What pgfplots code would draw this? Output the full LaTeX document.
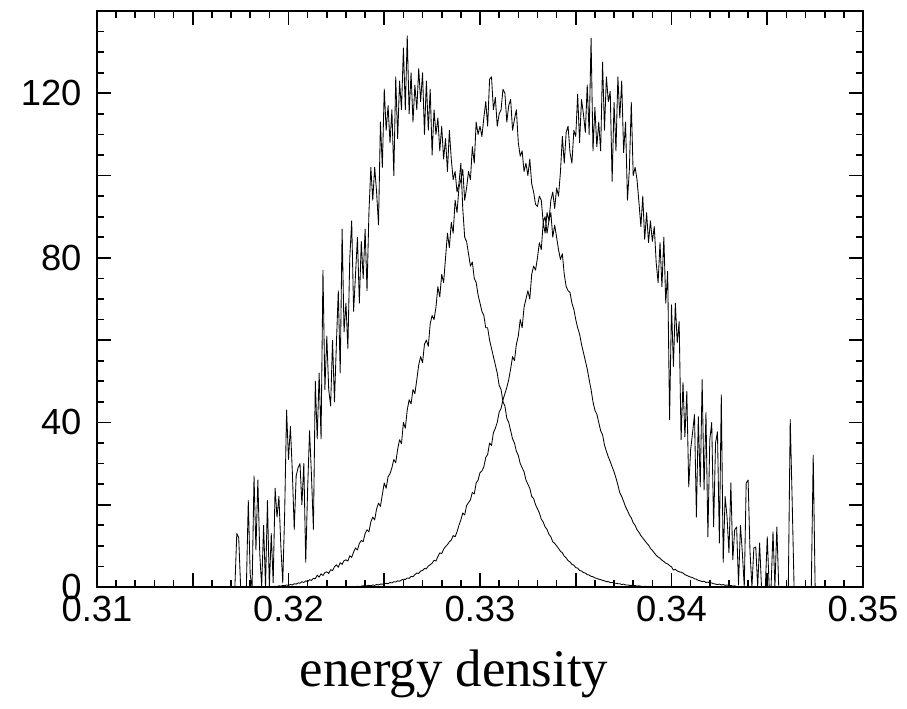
\documentclass[border=0pt]{standalone}
\usepackage{fontspec}
\setmainfont{Liberation Serif}
\newfontfamily\arialfont{Liberation Sans}
\usepackage{pgfplots}
\pgfplotsset{compat=1.18}
\begin{document}
\begin{tikzpicture}
\begin{axis}[
 scale only axis, width=766bp, height=576bp,
 xmin=0.31, xmax=0.35, ymin=0, ymax=140,
 xtick={0.31,0.315,0.32,0.325,0.33,0.335,0.34,0.345,0.35},
 xticklabels={0.31,,0.32,,0.33,,0.34,,0.35},
 minor x tick num=4,
 ytick={0,20,40,60,80,100,120,140},
 yticklabels={0,,40,,80,,120,},
 minor y tick num=3,
 tick align=inside,
 major tick length=14bp, minor tick length=7bp,
 every tick/.append style={black, line width=1.6bp},
 axis line style={line width=1.8bp},
 ticklabel style={font=\arialfont\fontsize{36.5}{40}\selectfont},
 xticklabel style={yshift=-6bp},
 yticklabel style={xshift=-12bp},
 xlabel={energy density},
 xlabel style={font=\fontsize{53}{60}\selectfont, at={(axis description cs:0.5,0)}, anchor=base, yshift=-99bp, xshift=-26bp},
 scaled x ticks=false,
]
% curve L
\addplot[black, no markers, line width=0.85bp, line join=round] coordinates {
(0.3168,0)(0.3169,0)(0.3170,0)(0.3171,0)(0.3172,0)(0.3173,13)(0.3174,12)(0.3175,0)(0.3176,0)(0.3177,0)
(0.3178,0)(0.3179,21)(0.3180,3)(0.3181,0)(0.3182,27)(0.3183,9)(0.3184,26)(0.3185,8)(0.3186,0)(0.3187,15)
(0.3188,0)(0.3189,21)(0.3190,0)(0.3191,13)(0.3192,1)(0.3193,24)(0.3194,17)(0.3195,22)(0.3196,10)(0.3197,1)
(0.3198,18)(0.3199,43)(0.3200,31)(0.3201,39)(0.3202,28)(0.3203,14)(0.3204,27)(0.3205,29)(0.3206,30)(0.3207,20)
(0.3208,30)(0.3209,6)(0.3210,24)(0.3211,38)(0.3212,27)(0.3213,14)(0.3214,50)(0.3215,36)(0.3216,52)(0.3217,36)
(0.3218,77)(0.3219,48)(0.3220,61)(0.3221,48)(0.3222,44)(0.3223,60)(0.3224,45)(0.3225,59)(0.3226,72)(0.3227,52)
(0.3228,87)(0.3229,62)(0.3230,69)(0.3231,58)(0.3232,80)(0.3233,89)(0.3234,67)(0.3235,76)(0.3236,85)(0.3237,69)
(0.3238,84)(0.3239,75)(0.3240,87)(0.3241,72)(0.3242,91)(0.3243,102)(0.3244,94)(0.3245,102)(0.3246,96)(0.3247,88)
(0.3248,113)(0.3249,102)(0.3250,121)(0.3251,111)(0.3252,117)(0.3253,108)(0.3254,116)(0.3255,100)(0.3256,124)(0.3257,109)
(0.3258,123)(0.3259,116)(0.3260,131)(0.3261,116)(0.3262,134)(0.3263,115)(0.3264,125)(0.3265,113)(0.3266,122)(0.3267,116)
(0.3268,126)(0.3269,118)(0.3270,125)(0.3271,110)(0.3272,123)(0.3273,111)(0.3274,121)(0.3275,105)(0.3276,116)(0.3277,110)
(0.3278,114)(0.3279,106)(0.3280,112)(0.3281,104)(0.3282,109)(0.3283,101)(0.3284,111)(0.3285,104)(0.3286,99)(0.3287,101)
(0.3288,96)(0.3289,98)(0.3290,103)(0.3291,92)(0.3292,85)(0.3293,84)(0.3294,81)(0.3295,78)(0.3296,79)(0.3297,75)
(0.3298,74)(0.3299,71)(0.3300,69)(0.3301,67)(0.3302,66)(0.3303,63)(0.3304,63)(0.3305,60)(0.3306,58)(0.3307,56)
(0.3308,54)(0.3309,52)(0.3310,49)(0.3311,48)(0.3312,45)(0.3313,44)(0.3314,41)(0.3315,40)(0.3316,38)(0.3317,36)
(0.3318,35)(0.3319,33)(0.3320,32)(0.3321,30)(0.3322,29)(0.3323,28)(0.3324,26)(0.3325,25)(0.3326,24)(0.3327,22)
(0.3328,21.5)(0.3329,20)(0.3330,19)(0.3331,18)(0.3332,16.5)(0.3333,15.8)(0.3334,14.6)(0.3335,14)(0.3336,12.8)(0.3337,12.2)
(0.3338,11)(0.3339,10.6)(0.3340,10)(0.3341,9.4)(0.3342,8.7)(0.3343,8.3)(0.3344,7.5)(0.3345,7.1)(0.3346,6.4)(0.3347,6.1)
(0.3348,5.5)(0.3349,5.3)(0.3350,4.7)(0.3351,4.6)(0.3352,4.0)(0.3353,3.9)(0.3354,3.5)(0.3355,3.4)(0.3356,3.0)(0.3357,2.9)
(0.3358,2.6)(0.3359,2.5)(0.3360,2.2)(0.3361,2.1)(0.3362,1.9)(0.3363,1.8)(0.3364,1.6)(0.3365,1.5)(0.3366,1.3)(0.3367,1.3)
(0.3368,1.1)(0.3369,1.1)(0.3370,0.9)(0.3371,0.9)(0.3372,0.8)(0.3373,0.8)(0.3374,0.6)(0.3375,0.7)(0.3376,0.5)(0.3377,0.5)
(0.3378,0.4)(0.3379,0.4)(0.3380,0.3)(0.3381,0.4)(0.3382,0.2)(0.3383,0.3)(0.3384,0.2)(0.3385,0.1)(0.3386,0.2)(0.3387,0.1)
(0.3388,0)(0.3390,0)
};
% curve M
\addplot[black, no markers, line width=0.85bp, line join=round] coordinates {
(0.3190,0)(0.3191,0.1)(0.3192,0)(0.3193,0.2)(0.3194,0.1)(0.3195,0.3)(0.3196,0.2)(0.3197,0.4)(0.3198,0.3)(0.3199,0.5)
(0.3200,0.4)(0.3201,0.6)(0.3202,0.5)(0.3203,0.8)(0.3204,0.7)(0.3205,1.0)(0.3206,0.9)(0.3207,1.3)(0.3208,1.1)(0.3209,1.5)
(0.3210,1.3)(0.3211,1.8)(0.3212,1.6)(0.3213,2.1)(0.3214,2.0)(0.3215,2.9)(0.3216,2.4)(0.3217,3.2)(0.3218,2.8)(0.3219,3.5)
(0.3220,3.7)(0.3221,3.3)(0.3222,4.2)(0.3223,4.0)(0.3224,4.9)(0.3225,5.4)(0.3226,4.8)(0.3227,5.9)(0.3228,5.5)(0.3229,6.4)
(0.3230,6.6)(0.3231,6.3)(0.3232,7.6)(0.3233,7.2)(0.3234,8.5)(0.3235,9.5)(0.3236,9.0)(0.3237,10.6)(0.3238,11.3)(0.3239,11.0)
(0.3240,13.0)(0.3241,13.9)(0.3242,13.4)(0.3243,15.8)(0.3244,17)(0.3245,16.3)(0.3246,19)(0.3247,20.4)(0.3248,19.6)(0.3249,22.5)
(0.3250,25.3)(0.3251,24)(0.3252,26.8)(0.3253,27.5)(0.3254,29)(0.3255,31)(0.3256,30.2)(0.3257,33.5)(0.3258,35.8)(0.3259,34.8)
(0.3260,40)(0.3261,38.6)(0.3262,43)(0.3263,45.5)(0.3264,44.5)(0.3265,48)(0.3266,47)(0.3267,50.4)(0.3268,54)(0.3269,56)
(0.3270,54.5)(0.3271,59)(0.3272,60)(0.3273,58.5)(0.3274,64)(0.3275,66)(0.3276,65)(0.3277,68)(0.3278,73)(0.3279,70.5)
(0.3280,76)(0.3281,74)(0.3282,80)(0.3283,86)(0.3284,82.5)(0.3285,88.6)(0.3286,86)(0.3287,94)(0.3288,91)(0.3289,97)
(0.3290,99)(0.3291,101.5)(0.3292,94)(0.3293,97)(0.3294,101)(0.3295,99)(0.3296,107)(0.3297,103)(0.3298,113)(0.3299,110)
(0.3300,112)(0.3301,109.5)(0.3302,114)(0.3303,118)(0.3304,112)(0.3305,123.4)(0.3306,124)(0.3307,116)(0.3308,119)(0.3309,112)
(0.3310,115)(0.3311,116)(0.3312,121)(0.3313,120)(0.3314,113)(0.3315,117)(0.3316,118.5)(0.3317,111)(0.3318,113.7)(0.3319,116)
(0.3320,108)(0.3321,104.7)(0.3322,106)(0.3323,101)(0.3324,103)(0.3325,100)(0.3326,104)(0.3327,98)(0.3328,96)(0.3329,93)
(0.3330,92.5)(0.3331,95)(0.3332,94)(0.3333,88.6)(0.3334,90)(0.3335,86)(0.3336,89)(0.3337,91)(0.3338,85)(0.3339,88)
(0.3340,85)(0.3341,82)(0.3342,79.6)(0.3343,81)(0.3344,76)(0.3345,73)(0.3346,72)(0.3347,71.6)(0.3348,69)(0.3349,67.5)
(0.3350,65)(0.3351,63)(0.3352,61.5)(0.3353,59)(0.3354,57)(0.3355,55)(0.3356,53)(0.3357,50.4)(0.3358,48)(0.3359,45)
(0.3360,43)(0.3361,42)(0.3362,40)(0.3363,38)(0.3364,37)(0.3365,34.5)(0.3366,33)(0.3367,31.6)(0.3368,30.5)(0.3369,29.2)
(0.3370,28)(0.3371,26.5)(0.3372,24.8)(0.3373,22.9)(0.3374,22)(0.3375,20.8)(0.3376,19.5)(0.3377,18.6)(0.3378,17.5)(0.3379,16.8)
(0.3380,15.6)(0.3381,15)(0.3382,13.9)(0.3383,13.3)(0.3384,12.5)(0.3385,11.9)(0.3386,11.3)(0.3387,10.7)(0.3388,10.2)(0.3389,9.4)
(0.3390,8.9)(0.3391,8.3)(0.3392,7.7)(0.3393,7.3)(0.3394,7.0)(0.3395,6.5)(0.3396,6.2)(0.3397,5.8)(0.3398,5.6)(0.3399,5.2)
(0.3400,4.9)(0.3401,4.1)(0.3402,4.3)(0.3403,3.9)(0.3404,3.7)(0.3405,3.6)(0.3406,3.4)(0.3407,3.0)(0.3408,2.8)(0.3409,2.6)
(0.3410,2.4)(0.3411,2.3)(0.3412,2.0)(0.3413,1.9)(0.3414,1.6)(0.3415,1.5)(0.3416,1.3)(0.3417,1.4)(0.3418,1.1)(0.3419,1.2)
(0.3420,0.9)(0.3421,1.0)(0.3422,0.8)(0.3423,0.7)(0.3424,0.6)(0.3425,0.7)(0.3426,0.5)(0.3427,0.6)(0.3428,0.4)(0.3429,0.5)
(0.3430,0.3)(0.3431,0.4)(0.3432,0.2)(0.3433,0.3)(0.3434,0.1)(0.3435,0.2)(0.3436,0)(0.3440,0)
};
% curve R
\addplot[black, no markers, line width=0.85bp, line join=round] coordinates {
(0.3230,0)(0.3232,0.1)(0.3234,0)(0.3235,0.1)(0.3236,0.2)(0.3237,0.1)(0.3238,0.2)(0.3239,0.3)(0.3240,0.2)(0.3241,0.3)
(0.3242,0.4)(0.3243,0.3)(0.3244,0.5)(0.3245,0.4)(0.3246,0.6)(0.3247,0.5)(0.3248,0.7)(0.3249,0.7)(0.3250,0.8)(0.3251,0.9)
(0.3252,0.8)(0.3253,1.1)(0.3254,1.0)(0.3255,1.3)(0.3256,1.2)(0.3257,1.5)(0.3258,1.4)(0.3259,1.7)(0.3260,1.9)(0.3261,1.8)
(0.3262,2.2)(0.3263,2.1)(0.3264,2.6)(0.3265,2.5)(0.3266,3.0)(0.3267,3.4)(0.3268,3.3)(0.3269,3.9)(0.3270,4.0)(0.3271,4.5)
(0.3272,4.4)(0.3273,5.1)(0.3274,5.4)(0.3275,5.8)(0.3276,6.5)(0.3277,6.3)(0.3278,7.4)(0.3279,8.3)(0.3280,8.1)(0.3281,9.2)
(0.3282,9.8)(0.3283,10.3)(0.3284,11)(0.3285,11.4)(0.3286,12.5)(0.3287,12.2)(0.3288,13.4)(0.3289,15)(0.3290,16.3)(0.3291,18)
(0.3292,17.5)(0.3293,19.8)(0.3294,20.5)(0.3295,21.2)(0.3296,23)(0.3297,22.6)(0.3298,25.3)(0.3299,26)(0.3300,27.8)(0.3301,28.2)
(0.3302,29.2)(0.3303,31.5)(0.3304,32.2)(0.3305,35)(0.3306,34.4)(0.3307,37.5)(0.3308,38.6)(0.3309,40)(0.3310,42.5)(0.3311,43.4)
(0.3312,45.5)(0.3313,47)(0.3314,48.5)(0.3315,50.4)(0.3316,53)(0.3317,56)(0.3318,55)(0.3319,59)(0.3320,61)(0.3321,65)
(0.3322,63)(0.3323,68)(0.3324,70)(0.3325,72)(0.3326,70)(0.3327,76)(0.3328,78)(0.3329,77)(0.3330,80)(0.3331,83.7)
(0.3332,82)(0.3333,88.6)(0.3334,86)(0.3335,91)(0.3336,89)(0.3337,94)(0.3338,96)(0.3339,92)(0.3340,97)(0.3341,95)
(0.3342,100.8)(0.3343,109.5)(0.3344,103)(0.3345,110.5)(0.3346,112)(0.3347,105.6)(0.3348,103)(0.3349,111)(0.3350,109.5)(0.3351,119.8)
(0.3352,108)(0.3353,118.5)(0.3354,115)(0.3355,110.5)(0.3356,122)(0.3357,110)(0.3358,133.4)(0.3359,106)(0.3360,116.6)(0.3361,107)
(0.3362,113)(0.3363,106)(0.3364,127.6)(0.3365,111)(0.3366,124)(0.3367,118)(0.3368,120.5)(0.3369,98.6)(0.3370,117.8)(0.3371,106)
(0.3372,124)(0.3373,114)(0.3374,123)(0.3375,105.6)(0.3376,113)(0.3377,94)(0.3378,101.5)(0.3379,117.8)(0.3380,100)(0.3381,102)
(0.3382,99)(0.3383,93.5)(0.3384,87.6)(0.3385,95)(0.3386,84.5)(0.3387,91)(0.3388,83.7)(0.3389,89)(0.3390,84)(0.3391,87.6)
(0.3392,78.9)(0.3393,74)(0.3394,83.7)(0.3395,73)(0.3396,85)(0.3397,69)(0.3398,76.7)(0.3399,40.7)(0.3400,68.6)(0.3401,53.6)
(0.3402,69)(0.3403,59.4)(0.3404,64.5)(0.3405,35.8)(0.3406,49.7)(0.3407,36.5)(0.3408,47.5)(0.3409,24.3)(0.3410,33.4)(0.3411,37.5)
(0.3412,41.9)(0.3413,17)(0.3414,41.4)(0.3415,24.3)(0.3416,50.4)(0.3417,23.6)(0.3418,42.4)(0.3419,12.2)(0.3420,35.8)(0.3421,40)
(0.3422,14.6)(0.3423,35)(0.3424,37.7)(0.3425,10.7)(0.3426,46.7)(0.3427,6)(0.3428,22)(0.3429,17)(0.3430,8.3)(0.3431,25.3)
(0.3432,6.6)(0.3433,13.9)(0.3434,14.6)(0.3435,0.5)(0.3436,15)(0.3437,8.3)(0.3438,0)(0.3439,25.3)(0.3440,26)(0.3441,8.5)
(0.3442,0)(0.3443,9.5)(0.3444,9.7)(0.3445,0)(0.3446,10.7)(0.3447,0)(0.3448,0)(0.3449,0)(0.3450,12.2)(0.3451,0)
(0.3452,0)(0.3453,13.4)(0.3454,0)(0.3455,14.6)(0.3456,0)(0.3457,0)(0.3458,0)(0.3459,0)(0.3460,0)(0.3461,0)
(0.3462,40.7)(0.3463,21.2)(0.3464,0)(0.3465,0)(0.3470,0)(0.3473,0)(0.3474,32)(0.3475,0)(0.3480,0)
};
\end{axis}
\pgfresetboundingbox
\path[use as bounding box] ([xshift=-97bp,yshift=-122bp]current axis.south west) rectangle ([xshift=44bp,yshift=11bp]current axis.north east);
\end{tikzpicture}
\end{document}
